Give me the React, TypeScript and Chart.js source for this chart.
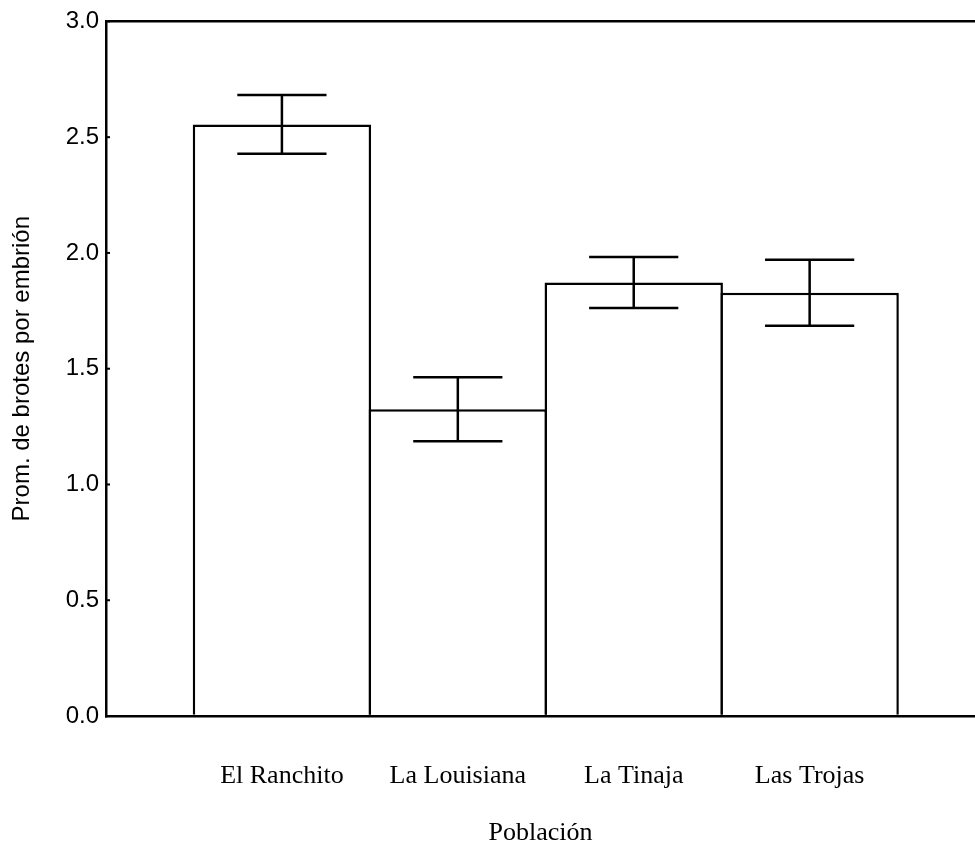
import React, { useEffect, useRef } from "react";
import { Chart, registerables } from "chart.js";

Chart.register(...registerables);

const categories = ["El Ranchito", "La Louisiana", "La Tinaja", "Las Trojas"];
const means = [2.555, 1.325, 1.872, 1.828];
const errors = [0.127, 0.138, 0.11, 0.143];
const yTicks = [0, 0.5, 1.0, 1.5, 2.0, 2.5, 3.0];
const yTitle = "Prom. de brotes por embrión";
const xTitle = "Población";

const errorBarPlugin = {
  id: "errorBars",
  afterDatasetsDraw(chart: any) {
    const meta = chart.getDatasetMeta(0);
    const yScale = chart.scales.y;
    const ctx = chart.ctx;
    ctx.save();
    ctx.strokeStyle = "#000";
    ctx.lineWidth = 2.5;
    meta.data.forEach((bar: any, i: number) => {
      const x = bar.x;
      const yTop = yScale.getPixelForValue(means[i] + errors[i]);
      const yBot = yScale.getPixelForValue(means[i] - errors[i]);
      const half = bar.width * 0.25;
      ctx.beginPath();
      ctx.moveTo(x, yTop);
      ctx.lineTo(x, yBot);
      ctx.moveTo(x - half, yTop);
      ctx.lineTo(x + half, yTop);
      ctx.moveTo(x - half, yBot);
      ctx.lineTo(x + half, yBot);
      ctx.stroke();
    });
    // small inward tick marks on the y axis
    const left = chart.chartArea.left;
    ctx.lineWidth = 2;
    yScale.ticks.forEach((t: any) => {
      const y = yScale.getPixelForValue(t.value);
      ctx.beginPath();
      ctx.moveTo(left, y);
      ctx.lineTo(left + 4, y);
      ctx.stroke();
    });
    ctx.restore();
  },
};

export default function App() {
  const ref = useRef<HTMLCanvasElement | null>(null);
  useEffect(() => {
    if (!ref.current) return;
    const chart = new Chart(ref.current, {
      type: "bar",
      data: {
        datasets: [
          {
            data: means.map((m, i) => ({ x: i + 1, y: m })),
            backgroundColor: "#ffffff",
            borderColor: "#000000",
            borderWidth: 2.5,
            categoryPercentage: 1,
            barPercentage: 1.014,
          },
        ],
      },
      options: {
        responsive: false,
        animation: false,
        layout: { padding: { top: 16, right: 0, left: 0, bottom: 0 } },
        plugins: { legend: { display: false }, tooltip: { enabled: false } },
        scales: {
          x: {
            type: "linear",
            offset: false,
            min: 0,
            max: 4.94,
            grid: { display: false, drawTicks: false },
            border: { display: true, color: "#000", width: 2.5 },
            afterBuildTicks: (scale: any) => {
              scale.ticks = categories.map((_, i) => ({ value: i + 1 }));
            },
            afterFit: (scale: any) => {
              scale.height = 143;
            },
            ticks: {
              autoSkip: false,
              maxRotation: 0,
              padding: 45,
              color: "#000",
              font: { family: "'Liberation Serif', 'Times New Roman', serif", size: 26 },
              callback: (v: any) => categories[Math.round(v) - 1] ?? "",
            },
            title: {
              display: true,
              text: xTitle,
              color: "#000",
              font: { family: "'Liberation Serif', 'Times New Roman', serif", size: 26 },
              padding: { top: 0, bottom: 10 },
            },
          },
          y: {
            min: 0,
            max: 3,
            grid: {
              drawTicks: false,
              lineWidth: 2.5,
              color: (c: any) => (c.tick && c.tick.value === 3 ? "#000" : "rgba(0,0,0,0)"),
            },
            border: { display: true, color: "#000", width: 2.5 },
            afterBuildTicks: (scale: any) => {
              scale.ticks = yTicks.map((v) => ({ value: v }));
            },
            afterFit: (scale: any) => {
              scale.width = 106;
            },
            ticks: {
              padding: 7,
              color: "#000",
              font: { family: "'Liberation Sans', Arial, sans-serif", size: 24 },
              callback: (v: any) => Number(v).toFixed(1),
            },
            title: {
              display: true,
              text: yTitle,
              color: "#000",
              font: { family: "'Liberation Sans', Arial, sans-serif", size: 24 },
              padding: { top: 8, bottom: 0 },
            },
          },
        },
      },
      plugins: [errorBarPlugin],
    });
    return () => chart.destroy();
  }, []);
  return (
    <div style={{ position: "absolute", left: 0, top: 0, width: 975, height: 859, background: "#fff" }}>
      <canvas ref={ref} width={975} height={859} />
    </div>
  );
}
